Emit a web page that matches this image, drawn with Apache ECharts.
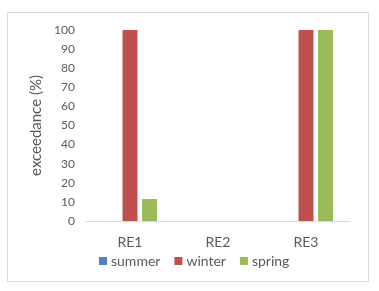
<!DOCTYPE html>
<html><head><meta charset="utf-8">
<script src="https://cdn.jsdelivr.net/npm/echarts@6/dist/echarts.min.js"></script>
<style>html,body{margin:0;padding:0;background:#fff}#c{width:379px;height:291px}</style>
</head><body><div id="c"></div>
<script>
const categories = ['RE1', 'RE2', 'RE3'];
const summer = [0, 0, 0];
const winter = [100, 0, 100];
const spring = [11.5, 0, 100];
const yTicks = [0, 10, 20, 30, 40, 50, 60, 70, 80, 90, 100];

const chart = echarts.init(document.getElementById('c'));
const font = 'Lato, "Open Sans", sans-serif';
chart.setOption({
  animation: false,
  graphic: [{type: 'rect', shape: {x: 7.5, y: 12.5, width: 361, height: 269},
    style: {fill: 'none', stroke: '#d9d9d9', lineWidth: 1}}],
  grid: {left: 86, right: 29, top: 30, bottom: 70, containLabel: false},
  legend: {
    data: ['summer', 'winter', 'spring'], top: 249, left: 94,
    itemWidth: 8, itemHeight: 8, itemGap: 14, icon: 'rect',
    textStyle: {fontFamily: font, fontSize: 14, color: '#595959', padding: [0, 0, 0, -1]}
  },
  xAxis: {
    type: 'category', data: categories,
    axisLine: {lineStyle: {color: '#d9d9d9'}}, axisTick: {show: false},
    axisLabel: {fontFamily: font, fontSize: 14, color: '#595959', margin: 14}
  },
  yAxis: {
    type: 'value', min: 0, max: 100, interval: 10,
    name: 'exceedance (%)', nameLocation: 'middle', nameGap: 34,
    nameTextStyle: {fontFamily: font, fontSize: 15, color: '#595959'},
    axisLine: {show: false}, axisTick: {show: false}, splitLine: {show: false},
    axisLabel: {fontFamily: font, fontSize: 12, color: '#595959', margin: 11,
      formatter: v => yTicks.includes(v) ? String(v) : ''}
  },
  series: [
    {name: 'summer', type: 'bar', data: summer, itemStyle: {color: '#4f81bd'}, barWidth: 15, barGap: '30%'},
    {name: 'winter', type: 'bar', data: winter, itemStyle: {color: '#c0504d'}, barWidth: 15, barGap: '30%'},
    {name: 'spring', type: 'bar', data: spring, itemStyle: {color: '#9bbb59'}, barWidth: 15, barGap: '30%'}
  ]
});
</script></body></html>
